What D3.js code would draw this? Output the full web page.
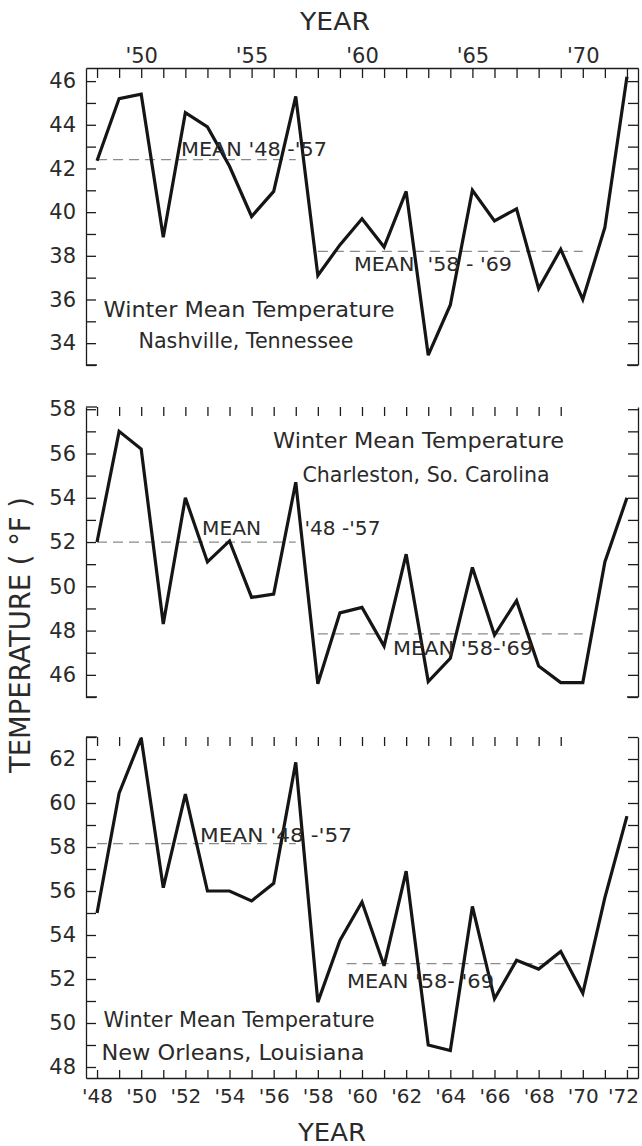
<!DOCTYPE html>
<html>
<head>
<meta charset="utf-8">
<script src="https://cdn.jsdelivr.net/npm/d3@7"></script>
<style>
  body { margin: 0; background: #fff; }
  svg text { font-family: "DejaVu Sans", sans-serif; fill: #2a2a2a; }
  .mean-label { white-space: pre; }
</style>
</head>
<body>
<div id="chart"></div>
<script>
// Years on the x axis (winters 1948 - 1972)
const years = [1948, 1949, 1950, 1951, 1952, 1953, 1954, 1955, 1956, 1957, 1958, 1959, 1960,
               1961, 1962, 1963, 1964, 1965, 1966, 1967, 1968, 1969, 1970, 1971, 1972];

// Winter mean temperature (°F), one value per year
const nashville  = [42.35, 45.2, 45.4, 38.85, 44.55, 43.9, 42.1, 39.8, 40.95, 45.3, 37.1, 38.5, 39.7,
                    38.4, 40.95, 33.45, 35.75, 41.0, 39.6, 40.15, 36.5, 38.3, 36.0, 39.3, 46.2];
const charleston = [52.0, 57.0, 56.2, 48.3, 54.0, 51.1, 52.05, 49.5, 49.65, 54.7, 45.6, 48.8, 49.05,
                    47.3, 51.45, 45.7, 46.75, 50.85, 47.8, 49.35, 46.4, 45.65, 45.65, 51.1, 54.0];
const newOrleans = [55.0, 60.45, 62.95, 56.15, 60.4, 56.0, 56.0, 55.55, 56.35, 61.85, 50.95, 53.75, 55.5,
                    52.6, 56.9, 49.0, 48.75, 55.3, 51.1, 52.85, 52.45, 53.25, 51.35, 55.7, 59.4];

// Period means (Nashville, Charleston, New Orleans) and the years the dashed lines cover
const mean4857 = [42.4, 52.0, 58.15];
const mean5869 = [38.2, 47.85, 52.7];
const span4857 = [[1948, 1957], [1948, 1957], [1948, 1957]];
const span5869 = [[1958, 1970], [1958, 1970], [1959.3, 1970]];

// Tick labels
const nashTicks = [34, 36, 38, 40, 42, 44, 46];
const charTicks = [46, 48, 50, 52, 54, 56, 58];
const nolaTicks = [48, 50, 52, 54, 56, 58, 60, 62];
const topYearLabels = [1950, 1955, 1960, 1965, 1970];
const bottomYearLabels = [1948, 1950, 1952, 1954, 1956, 1958, 1960, 1962, 1964, 1966, 1968, 1970, 1972];

// Texts
const titles = [
  ["Winter Mean Temperature", "Nashville, Tennessee"],
  ["Winter Mean Temperature", "Charleston, So. Carolina"],
  ["Winter Mean Temperature", "New Orleans, Louisiana"]
];
const meanLabels4857 = [["MEAN '48 -'57"], ["MEAN", "'48 -'57"], ["MEAN '48 -'57"]];
const meanLabels5869 = [["MEAN  '58 - '69"], ["MEAN '58-'69"], ["MEAN '58- '69"]];

// ---- layout (pixels) ----
const W = 642, H = 1146;
const svg = d3.select("#chart").append("svg")
    .attr("width", W)
    .attr("height", H);

const x = d3.scaleLinear().domain([1947.5, 1972.5]).range([86, 638]);

const panels = [
  {
    values: nashville, ticks: nashTicks, yDomain: [33, 46.6], yRange: [365, 68],
    top: "full", bottom: "hooks",
    title: [{x: 103.5, y: 317, w: 291, anchor: "start"}, {x: 246, y: 348, w: 215, anchor: "middle"}],
    m1: [{x: 181, y: 156, w: 146}],
    m2: [{x: 354, y: 271, w: 158}]
  },
  {
    values: charleston, ticks: charTicks, yDomain: [45, 58.1], yRange: [697, 407],
    top: "ticks", bottom: "hooks",
    title: [{x: 273, y: 448, w: 291, anchor: "start"}, {x: 426, y: 482, w: 247, anchor: "middle"}],
    m1: [{x: 202, y: 535, w: 59}, {x: 304.5, y: 535, w: 76}],
    m2: [{x: 393, y: 655, w: 140}]
  },
  {
    values: newOrleans, ticks: nolaTicks, yDomain: [47.5, 63], yRange: [1078, 737],
    top: "ticks", bottom: "axis",
    title: [{x: 103.5, y: 1027, w: 271, anchor: "start"}, {x: 101.5, y: 1060, w: 263, anchor: "start"}],
    m1: [{x: 200, y: 842, w: 152}],
    m2: [{x: 347, y: 988, w: 147}]
  }
];

const shortYear = d => "'" + String(d).slice(2);
const ink = "#1c1c1c";

panels.forEach((p, i) => {
  const y = d3.scaleLinear().domain(p.yDomain).range(p.yRange);
  const g = svg.append("g");
  const allDeg = d3.range(Math.ceil(p.yDomain[0]), Math.floor(p.yDomain[1]) + 1);
  const yTop = p.yRange[1], yBot = p.yRange[0];

  // left frame with inward ticks every degree, labels every 2
  g.append("g")
    .attr("transform", `translate(${x.range()[0]},0)`)
    .call(d3.axisLeft(y)
      .tickValues(allDeg)
      .tickSize(-10)
      .tickSizeOuter(0)
      .tickPadding(10)
      .tickFormat(d => p.ticks.includes(d) ? d : ""))
    .call(a => a.attr("font-size", 21).attr("font-family", null).attr("color", ink))
    .call(a => a.selectAll("path, line").attr("stroke-width", 1.3));

  // right frame
  g.append("g")
    .attr("transform", `translate(${x.range()[1]},0)`)
    .call(d3.axisRight(y)
      .tickValues(allDeg)
      .tickSize(-10)
      .tickSizeOuter(0)
      .tickFormat(""))
    .call(a => a.attr("color", ink))
    .call(a => a.selectAll("path, line").attr("stroke-width", 1.3));

  // top edge
  if (p.top === "full") {
    g.append("g")
      .attr("transform", `translate(0,${yTop})`)
      .call(d3.axisTop(x)
        .tickValues(years)
        .tickSize(-10)
        .tickSizeOuter(0)
        .tickPadding(5)
        .tickFormat(d => topYearLabels.includes(d) ? shortYear(d) : ""))
      .call(a => a.attr("font-size", 21).attr("font-family", null).attr("color", ink))
      .call(a => a.selectAll("path, line").attr("stroke-width", 1.3));
  } else {
    g.append("g")
      .attr("transform", `translate(0,${yTop})`)
      .call(d3.axisTop(x)
        .tickValues(years.filter(d => d <= 1969))
        .tickSize(-9)
        .tickFormat(""))
      .call(a => a.attr("color", ink))
      .call(a => a.select(".domain").remove())
      .call(a => a.selectAll("line").attr("stroke-width", 1.3));
    g.append("path")
      .attr("d", `M${x(1947.5)},${yTop}H${x(1948)}`)
      .attr("stroke", ink).attr("stroke-width", 1.3);
  }

  // bottom edge
  if (p.bottom === "axis") {
    g.append("g")
      .attr("transform", `translate(0,${yBot})`)
      .call(d3.axisBottom(x)
        .tickValues(years)
        .tickSize(-8)
        .tickSizeOuter(0)
        .tickPadding(11)
        .tickFormat(d => bottomYearLabels.includes(d) ? shortYear(d) : ""))
      .call(a => a.attr("font-size", 20).attr("font-family", null).attr("color", ink))
      .call(a => a.selectAll("path, line").attr("stroke-width", 1.3))
      // keep the last label inside the page
      .call(a => a.selectAll(".tick text").filter(d => d === 1972).attr("dx", "-4"));
  } else {
    g.append("path")
      .attr("d", `M${x(1947.5)},${yBot}H${x(1948)}M${x(1972)},${yBot}H${x(1972.5)}`)
      .attr("stroke", ink).attr("stroke-width", 1.3);
  }

  // dashed mean lines
  [[mean4857[i], span4857[i]], [mean5869[i], span5869[i]]].forEach(([m, s]) => {
    g.append("line")
      .attr("x1", x(s[0])).attr("x2", x(s[1]))
      .attr("y1", y(m)).attr("y2", y(m))
      .attr("stroke", "#8a8a8a")
      .attr("stroke-width", 1.2)
      .attr("stroke-dasharray", "10 6");
  });

  // temperature line
  g.append("path")
    .datum(p.values)
    .attr("d", d3.line()
      .x((d, j) => x(years[j]))
      .y(d => y(d)))
    .attr("fill", "none")
    .attr("stroke", "#151515")
    .attr("stroke-width", 3.2)
    .attr("stroke-miterlimit", 3);

  // mean labels
  const addLabels = (texts, pos) => texts.forEach((t, k) => {
    g.append("text")
      .attr("class", "mean-label")
      .attr("x", pos[k].x).attr("y", pos[k].y)
      .attr("font-size", 19)
      .attr("textLength", pos[k].w)
      .attr("lengthAdjust", "spacingAndGlyphs")
      .text(t);
  });
  addLabels(meanLabels4857[i], p.m1);
  addLabels(meanLabels5869[i], p.m2);

  // panel title
  titles[i].forEach((t, k) => {
    const pos = p.title[k];
    g.append("text")
      .attr("x", pos.x).attr("y", pos.y)
      .attr("text-anchor", pos.anchor)
      .attr("font-size", 22)
      .attr("textLength", pos.w)
      .attr("lengthAdjust", "spacingAndGlyphs")
      .text(t);
  });
});

// axis titles
svg.append("text")
  .attr("x", 335).attr("y", 30)
  .attr("text-anchor", "middle")
  .attr("font-size", 25)
  .attr("textLength", 70)
  .attr("lengthAdjust", "spacingAndGlyphs")
  .text("YEAR");

svg.append("text")
  .attr("x", 332).attr("y", 1141)
  .attr("text-anchor", "middle")
  .attr("font-size", 25)
  .attr("textLength", 68)
  .attr("lengthAdjust", "spacingAndGlyphs")
  .text("YEAR");

svg.append("text")
  .attr("transform", "translate(30,635) rotate(-90)")
  .attr("text-anchor", "middle")
  .attr("font-size", 28)
  .attr("textLength", 276)
  .attr("lengthAdjust", "spacingAndGlyphs")
  .text("TEMPERATURE ( °F )");
</script>
</body>
</html>
